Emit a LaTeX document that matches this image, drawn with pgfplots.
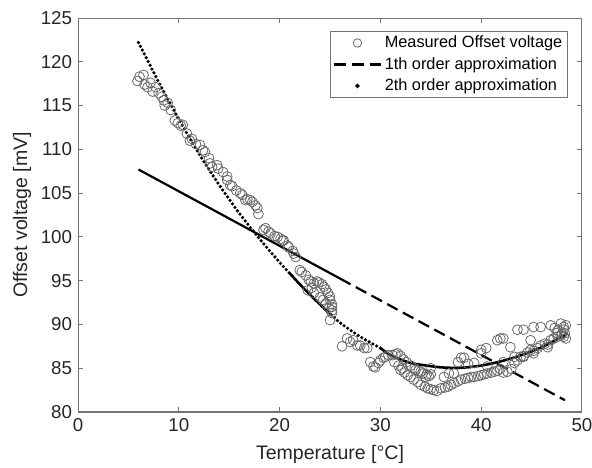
\documentclass[border=0pt]{standalone}
\usepackage{fontspec}
\setmainfont{Liberation Sans}
\usepackage{pgfplots}
\pgfplotsset{compat=1.18}
\begin{document}
\begin{tikzpicture}
\path[use as bounding box] (-45.9pt,-32.9pt) rectangle (302.4pt,242.4pt);
\begin{axis}[
  scale only axis, width=296.5pt, height=231.8pt,
  xmin=0, xmax=50, ymin=80, ymax=125,
  xtick={0,10,20,30,40,50}, ytick={80,85,90,95,100,105,110,115,120,125},
  tick align=inside, major tick length=3pt,
  axis line style={black!55, line width=0.6pt},
  every tick/.style={black!55, line width=0.6pt},
  tick label style={font=\fontsize{11}{13}\selectfont, text=black!85},
  /pgf/number format/assume math mode=true,
  xlabel={Temperature [°C]}, ylabel={Offset voltage [mV]},
  every axis x label/.style={at={(axis description cs:0.5,-0.109)}, anchor=center, font=\fontsize{11.5}{13}\selectfont, text=black!85},
  every axis y label/.style={at={(axis description cs:-0.111,0.5)}, rotate=90, anchor=center, font=\fontsize{11.5}{13}\selectfont, text=black!85},
  legend style={at={(axis description cs:0.972,0.967)}, anchor=north east, draw=black!55, line width=0.6pt,
    font=\fontsize{9.6}{11}\selectfont, inner xsep=1.5pt, inner ysep=1pt, row sep=1.2pt,
    nodes={inner sep=1.5pt}},
  legend cell align=left,
]
\addplot[only marks, mark=o, mark size=2.9pt, mark options={draw=black!60, line width=0.45pt}, forget plot] table {
x y
5.9 117.8
6.1 118.3
6.5 118.5
6.6 117.4
6.9 117.1
7.2 117.6
7.4 116.6
7.7 117.1
8.0 116.4
8.3 116.0
8.5 115.6
8.6 115.0
8.9 115.3
9.2 114.5
9.6 113.3
9.9 113.0
10.2 112.7
10.4 112.8
10.8 111.8
11.1 111.0
11.3 111.2
11.7 110.6
12.1 110.5
12.4 109.9
12.6 109.7
13.0 109.0
13.1 108.4
13.3 108.0
13.8 108.2
13.9 107.8
14.4 107.4
14.8 106.9
14.8 106.5
15.1 105.9
15.3 105.8
15.7 105.3
16.1 105.0
16.3 104.8
16.6 104.2
16.8 104.3
17.1 104.2
17.3 104.0
17.6 103.6
17.8 103.3
17.9 102.6
18.4 100.8
18.6 101.0
18.9 100.6
19.1 100.4
19.5 100.1
19.8 100.0
20.1 99.8
20.3 99.6
20.4 99.6
20.8 99.0
20.9 98.8
21.3 98.4
21.4 98.1
21.6 97.7
22.0 96.2
22.2 96.0
22.6 95.6
22.9 95.1
23.1 94.9
23.4 94.7
23.7 94.9
23.9 94.8
24.2 94.6
24.4 94.3
24.6 94.0
24.8 93.6
25.0 93.2
25.0 92.8
25.2 92.3
25.2 92.0
25.2 91.6
25.2 91.3
25.0 90.5
22.8 93.9
23.4 93.6
24.0 93.1
24.3 92.8
24.6 92.4
24.9 91.9
23.2 94.2
26.2 87.5
26.7 88.4
27.0 88.0
27.3 88.2
27.7 87.6
28.0 87.6
28.4 87.3
28.7 87.3
29.0 85.7
29.3 85.2
29.5 85.1
29.8 85.6
30.0 85.9
30.3 86.2
30.5 86.3
30.8 86.5
31.2 86.5
31.5 86.6
31.7 86.7
32.0 86.4
32.3 86.0
32.6 85.7
33.0 85.3
33.4 85.0
33.8 84.7
34.2 84.4
34.6 84.3
35.0 84.3
31.4 85.7
31.8 85.3
32.2 85.0
32.0 84.8
32.4 84.5
32.7 84.2
33.0 84.0
33.3 83.7
33.7 83.4
34.0 83.1
34.4 82.9
34.7 82.7
35.0 82.6
35.3 82.5
35.6 82.4
36.0 82.7
36.4 82.8
36.7 82.9
37.0 83.1
37.3 83.3
37.7 83.5
38.0 83.7
38.4 83.8
38.7 83.9
39.0 84.0
39.3 84.0
39.7 84.1
40.0 84.2
40.3 84.3
40.6 84.4
41.0 84.5
41.3 84.6
41.6 84.7
41.9 84.9
42.2 84.5
42.6 84.6
43.0 84.9
43.3 85.6
43.6 85.9
43.9 86.3
44.2 86.4
44.6 86.8
44.9 87.1
45.2 87.0
45.6 87.3
45.9 87.6
46.3 87.8
46.6 87.7
46.9 88.2
47.2 88.4
47.6 88.6
47.9 88.7
48.2 88.6
48.3 89.0
36.3 84.0
36.8 84.4
37.3 84.4
37.7 85.7
38.0 86.2
38.3 86.2
38.7 85.5
39.3 85.6
40.0 86.7
40.0 87.1
40.5 87.3
40.6 85.2
41.6 88.2
41.9 88.4
42.2 88.4
42.2 85.7
42.9 87.4
43.3 86.3
43.6 89.4
44.2 89.4
44.2 86.3
44.9 88.2
45.2 89.7
45.2 86.7
45.9 89.7
46.6 87.4
46.9 89.9
47.3 89.6
47.6 89.3
47.9 90.1
48.2 89.7
48.2 89.4
48.4 89.9
48.0 88.9
47.5 89.0
48.4 88.4
33.5 84.8
34.0 84.6
34.5 84.0
35.0 85.0
34.8 84.1
};
% 1st order approximation
\addplot[black, line width=1.3pt, forget plot] coordinates {(6,107.7) (26,95.24)};
\addplot[black, line width=1.3pt, dash pattern=on 7pt off 3.5pt, forget plot] coordinates {(26,95.24) (48.3,81.35)};
% 2nd order approximation
\addplot[black, line width=2.1pt, line cap=round, dash pattern=on 0pt off 2.5pt, smooth, forget plot] coordinates {
(6,122.2) (8,117.7) (10,113.45) (12,109.5) (14,105.95) (16,102.7) (18,99.8) (20,97.1) (22,94.6) (24,92.3) (26,90.2) (28,88.6) (30,87.3)};
\addplot[black, line width=1.4pt, smooth, forget plot] coordinates {(21,95.85) (22,94.6) (23,93.4) (24,92.3) (25,91.2)};
\addplot[black, line width=1.5pt, smooth, forget plot] coordinates {
(30,87.3) (31,86.5) (32,86.0) (33,85.6) (34,85.4) (36,85.1) (38,85.05) (40,85.3) (42,85.8) (44,86.5) (46,87.4) (48,88.6) (48.6,89.0)};
% legend
\addlegendimage{legend image code/.code={\draw[black!60, line width=0.45pt] (0.48cm,0cm) circle (2.5pt);}}
\addlegendentry{Measured Offset voltage}
\addlegendimage{legend image code/.code={\draw[black, line width=1.3pt, dash pattern=on 7pt off 3.5pt] (0cm,0cm) -- (0.97cm,0cm);}}
\addlegendentry{1th order approximation}
\addlegendimage{legend image code/.code={\fill[black] (0.48cm,0cm) circle (1pt);}}
\addlegendentry{2th order approximation}
\end{axis}
\end{tikzpicture}
\end{document}
